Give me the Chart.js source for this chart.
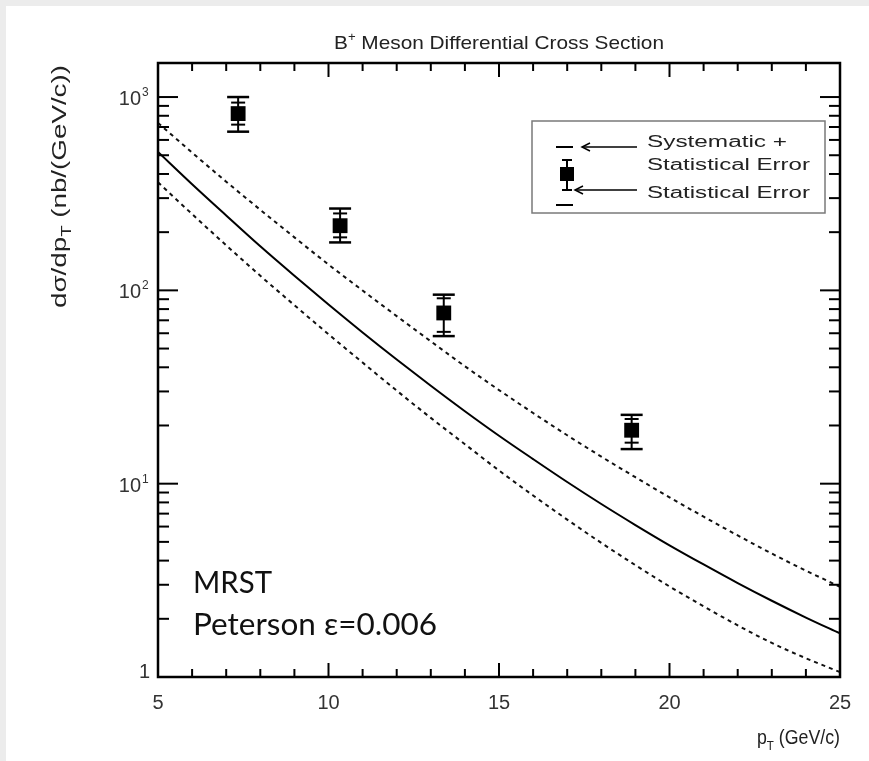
<!DOCTYPE html>
<html>
<head>
<meta charset="utf-8">
<title>B+ Meson Differential Cross Section</title>
<script src="https://cdn.jsdelivr.net/npm/chart.js@4.4.1/dist/chart.umd.min.js"></script>
<style>
    html, body { margin: 0; padding: 0; background: #ffffff; }
    #wrap { position: relative; width: 869px; height: 761px; }
    canvas { display: block; }
</style>
</head>
<body>
<div id="wrap"><canvas id="xsecChart" width="869" height="761"></canvas></div>
<script>
// Theory curves (MRST, Peterson eps=0.006)
const ptGrid = [5, 6, 7, 8, 9, 10, 11, 12, 13, 14, 15, 16, 17, 18, 19, 20, 21, 22, 23, 24, 25];
const central = [520, 354, 244, 169, 119, 84.5, 60.6, 43.9, 32.1, 23.7, 17.7, 13.4, 10.2, 7.85, 6.11, 4.8, 3.82, 3.06, 2.48, 2.03, 1.68];
const upperBand = [735, 516, 365, 261, 188, 136, 99.8, 73.6, 54.5, 40.5, 30.5, 23.2, 17.8, 13.8, 10.8, 8.5, 6.75, 5.4, 4.35, 3.55, 2.93];
const lowerBand = [362, 248, 171, 119, 83.8, 59.3, 42.3, 30.3, 21.9, 16.0, 11.7, 8.69, 6.52, 4.94, 3.79, 2.94, 2.32, 1.85, 1.5, 1.25, 1.06];

// Measured points
const ptData = [7.35, 10.34, 13.38, 18.89];
const xsec = [821, 216, 76.4, 18.9];
const statLow = [720, 188, 61, 16.3];
const statHigh = [936, 250, 91, 21.6];
const totLow = [662, 177, 58, 15.1];
const totHigh = [1000, 265, 95, 22.7];

// Axis ticks
const xMajor = [5, 10, 15, 20, 25];
const yDecades = [0, 1, 2, 3];

const SANS = '"Liberation Sans", Arial, sans-serif';

function toXY(xs, ys) {
    return xs.map((x, i) => ({ x: x, y: ys[i] }));
}

// draw text made of pieces (sub/superscripts), optionally stretched to a width
function richText(ctx, parts, x, y, opt) {
    const family = opt.family || SANS;
    let total = 0;
    parts.forEach(p => {
        ctx.font = p.s + 'px ' + family;
        p.w = ctx.measureText(p.t).width;
        total += p.w;
    });
    const sx = opt.width ? opt.width / total : 1;
    const W = total * sx;
    let x0 = x;
    if (opt.align === 'right') x0 = x - W;
    if (opt.align === 'center') x0 = x - W / 2;
    ctx.save();
    ctx.fillStyle = opt.color || '#222';
    ctx.translate(x0, y);
    if (opt.rotate) ctx.rotate(opt.rotate);
    ctx.scale(sx, 1);
    ctx.textAlign = 'left';
    ctx.textBaseline = 'alphabetic';
    let cx = 0;
    parts.forEach(p => {
        ctx.font = p.s + 'px ' + family;
        ctx.fillText(p.t, cx, p.dy || 0);
        cx += p.w;
    });
    ctx.restore();
}

function line(ctx, x1, y1, x2, y2) {
    ctx.beginPath();
    ctx.moveTo(x1, y1);
    ctx.lineTo(x2, y2);
    ctx.stroke();
}

function arrowLeft(ctx, xFrom, xTo, y) {
    line(ctx, xFrom, y, xTo, y);
    ctx.beginPath();
    ctx.moveTo(xTo + 8, y - 4);
    ctx.lineTo(xTo, y);
    ctx.lineTo(xTo + 8, y + 4);
    ctx.stroke();
}

const figurePlugin = {
    id: 'figure',
    beforeDraw(chart) {
        const ctx = chart.ctx;
        ctx.save();
        ctx.fillStyle = '#ececec';
        ctx.fillRect(0, 0, chart.width, chart.height);
        ctx.fillStyle = '#ffffff';
        ctx.fillRect(6, 6, chart.width - 6, chart.height - 6);
        ctx.restore();
    },
    beforeDatasetsDraw(chart) {
        // error bars behind the square markers
        const ctx = chart.ctx;
        const xs = chart.scales.x, ys = chart.scales.y;
        ctx.save();
        ctx.strokeStyle = '#000';
        ptData.forEach((pt, i) => {
            const x = xs.getPixelForValue(pt);
            const yTop = ys.getPixelForValue(totHigh[i]);
            const yBot = ys.getPixelForValue(totLow[i]);
            const sTop = ys.getPixelForValue(statHigh[i]);
            const sBot = ys.getPixelForValue(statLow[i]);
            ctx.lineWidth = 2;
            line(ctx, x, yTop, x, yBot);
            ctx.lineWidth = 2.5;
            line(ctx, x - 11, yTop, x + 11, yTop);
            line(ctx, x - 11, yBot, x + 11, yBot);
            ctx.lineWidth = 2;
            line(ctx, x - 7, sTop, x + 7, sTop);
            line(ctx, x - 7, sBot, x + 7, sBot);
        });
        ctx.restore();
    },
    afterDraw(chart) {
        const ctx = chart.ctx;
        const xs = chart.scales.x, ys = chart.scales.y;
        const a = chart.chartArea;
        ctx.save();
        ctx.strokeStyle = '#000';

        // ticks, pointing inwards on all four sides
        ctx.lineWidth = 2;
        for (let v = 5; v <= 25; v++) {
            const x = xs.getPixelForValue(v);
            const len = v % 5 === 0 ? 14 : 8;
            line(ctx, x, a.bottom, x, a.bottom - len);
            line(ctx, x, a.top, x, a.top + len);
        }
        yDecades.forEach(d => {
            for (let m = 1; m <= 9; m++) {
                const v = m * Math.pow(10, d);
                if (v > ys.max) break;
                const y = ys.getPixelForValue(v);
                const len = m === 1 ? 20 : 11;
                line(ctx, a.left, y, a.left + len, y);
                line(ctx, a.right, y, a.right - len, y);
            }
        });

        // frame
        ctx.lineWidth = 2.5;
        ctx.strokeRect(a.left, a.top, a.right - a.left, a.bottom - a.top);

        // x tick labels
        ctx.fillStyle = '#333';
        ctx.font = '20px ' + SANS;
        ctx.textAlign = 'center';
        ctx.textBaseline = 'alphabetic';
        xMajor.forEach(v => {
            ctx.fillText(String(v), xs.getPixelForValue(v), 709);
        });

        // y tick labels
        yDecades.forEach(d => {
            const y = ys.getPixelForValue(Math.pow(10, d));
            if (d === 0) {
                ctx.font = '20px ' + SANS;
                ctx.textAlign = 'right';
                ctx.fillText('1', a.left - 8, y + 1);
            } else {
                ctx.font = '20px ' + SANS;
                ctx.textAlign = 'right';
                ctx.fillText('10', a.left - 17, y + 8);
                ctx.font = '12px ' + SANS;
                ctx.textAlign = 'left';
                ctx.fillText(String(d), a.left - 16, y - 1);
            }
        });

        // title
        richText(ctx, [
            { t: 'B', s: 19 },
            { t: '+', s: 12, dy: -8 },
            { t: ' Meson Differential Cross Section', s: 19 }
        ], (a.left + a.right) / 2, 49, { align: 'center', width: 330, color: '#222' });

        // axis titles
        richText(ctx, [
            { t: 'd\u03c3/dp', s: 21 },
            { t: 'T', s: 14, dy: 5 },
            { t: ' (nb/(GeV/c))', s: 21 }
        ], 66, 308, { rotate: -Math.PI / 2, width: 243, color: '#222' });
        richText(ctx, [
            { t: 'p', s: 20 },
            { t: 'T', s: 13, dy: 6 },
            { t: ' (GeV/c)', s: 20 }
        ], a.right, 744, { align: 'right', width: 83, color: '#222' });

        // legend box
        ctx.strokeStyle = '#7a7a7a';
        ctx.lineWidth = 1.5;
        ctx.strokeRect(532, 121, 293, 92);
        ctx.strokeStyle = '#000';
        ctx.fillStyle = '#000';
        ctx.lineWidth = 2;
        line(ctx, 556, 147, 573, 147);
        line(ctx, 556, 205, 573, 205);
        line(ctx, 567, 160, 567, 190);
        line(ctx, 562, 160, 572, 160);
        line(ctx, 562, 190, 572, 190);
        ctx.fillRect(560, 167, 14, 14);
        ctx.lineWidth = 1.5;
        arrowLeft(ctx, 637, 582, 147);
        arrowLeft(ctx, 637, 575, 190);
        richText(ctx, [{ t: 'Systematic +', s: 16 }], 647, 147, { width: 140, color: '#222' });
        richText(ctx, [{ t: 'Statistical Error', s: 16 }], 647, 170, { width: 163, color: '#222' });
        richText(ctx, [{ t: 'Statistical Error', s: 16 }], 647, 198, { width: 163, color: '#222' });

        // model annotation
        richText(ctx, [{ t: 'MRST', s: 30 }], 193, 593, { width: 79, color: '#111', family: 'Lato, "Open Sans", sans-serif' });
        richText(ctx, [{ t: 'Peterson \u03b5=0.006', s: 30 }], 193, 635, { width: 244, color: '#111', family: 'Lato, "Open Sans", sans-serif' });

        ctx.restore();
    }
};

function initChart() {
    const ctx = document.getElementById('xsecChart').getContext('2d');
    const curveStyle = {
        showLine: true,
        pointRadius: 0,
        borderColor: '#000',
        borderWidth: 2,
        cubicInterpolationMode: 'monotone',
        fill: false
    };
    new Chart(ctx, {
        type: 'scatter',
        data: {
            datasets: [
                Object.assign({ label: 'central', data: toXY(ptGrid, central) }, curveStyle),
                Object.assign({ label: 'upper', data: toXY(ptGrid, upperBand), borderDash: [4, 4] }, curveStyle, { borderColor: '#111' }),
                Object.assign({ label: 'lower', data: toXY(ptGrid, lowerBand), borderDash: [4, 4] }, curveStyle, { borderColor: '#111' }),
                {
                    label: 'data',
                    data: toXY(ptData, xsec),
                    pointStyle: 'rect',
                    pointRadius: 10.5,
                    backgroundColor: '#000',
                    borderWidth: 0
                }
            ]
        },
        options: {
            responsive: false,
            animation: false,
            events: [],
            layout: { padding: { left: 158, top: 63, right: 29, bottom: 84 } },
            plugins: {
                legend: { display: false },
                title: { display: false },
                tooltip: { enabled: false }
            },
            scales: {
                x: { type: 'linear', min: 5, max: 25, display: false },
                y: { type: 'logarithmic', min: 1, max: 1500, display: false }
            }
        },
        plugins: [figurePlugin]
    });
}

document.addEventListener('DOMContentLoaded', initChart);
</script>
</body>
</html>
